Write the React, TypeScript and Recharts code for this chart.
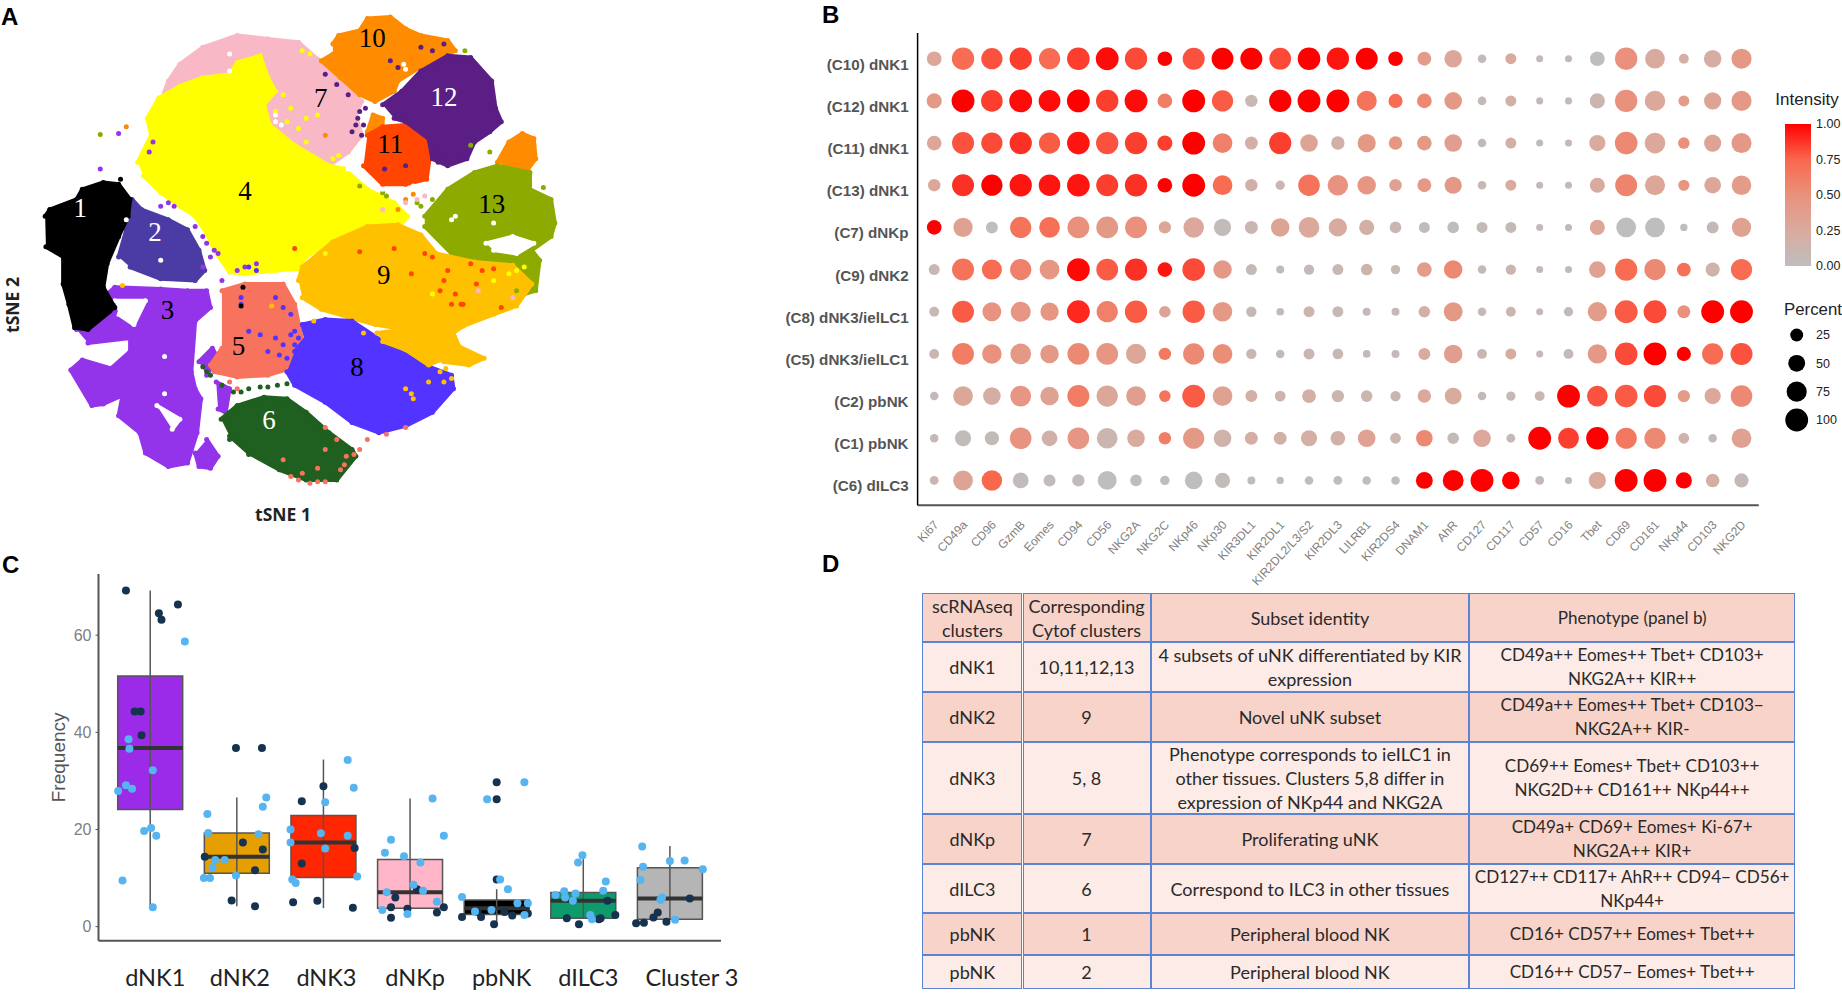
import React from "react";
import { ScatterChart, Scatter, XAxis, YAxis, ZAxis, Cell, ReferenceArea, ReferenceLine } from "recharts";

/* ---------- Panel A: t-SNE map (outline vertices and stray events, t-SNE units) ---------- */
const sneClusters = [
  { name: "7", color: "#F9B8C6", outline: [[420,300],[440,240],[470,190],[530,140],[620,105],[700,115],[780,125],[830,175],[890,240],[945,300],[930,340],[945,400],[910,450],[860,490],[800,470],[700,420],[640,330],[600,300],[520,320]] },
  { name: "10c", color: "#FF8C00", outline: [[960,390],[975,340],[1000,350],[1000,380],[975,405]] },
  { name: "4", color: "#FFFF00", outline: [[360,480],[395,400],[385,350],[415,290],[470,255],[530,230],[600,220],[620,185],[680,165],[700,230],[720,270],[690,310],[705,370],[770,430],[860,490],[900,500],[960,560],[1030,600],[1065,640],[1040,675],[960,675],[880,700],[800,760],[780,795],[720,800],[640,810],[600,805],[560,740],[540,690],[510,640],[470,610],[420,570],[375,520]] },
  { name: "10", color: "#FF8C00", outline: [[870,130],[885,105],[940,90],[960,55],[1020,50],[1060,85],[1100,105],[1170,120],[1190,150],[1110,190],[1040,240],[1030,270],[980,300],[940,280],[890,230],[840,180],[870,160]] },
  { name: "10b", color: "#FF8C00", outline: [[1300,480],[1330,420],[1365,395],[1395,410],[1400,470],[1380,500],[1330,500]] },
  { name: "11", color: "#FF4500", outline: [[960,400],[1000,375],[1060,370],[1110,400],[1125,450],[1115,530],[1060,545],[1000,545],[950,490]] },
  { name: "12", color: "#5B1E85", outline: [[1000,310],[1050,270],[1100,210],[1170,165],[1230,170],[1285,240],[1295,320],[1310,360],[1280,390],[1240,420],[1220,470],[1170,490],[1130,470],[1120,410],[1060,360],[1030,350]] },
  { name: "13", color: "#8DAA00", outline: [[1110,640],[1170,560],[1240,510],[1300,490],[1385,510],[1385,560],[1440,590],[1450,660],[1440,700],[1390,740],[1410,770],[1400,860],[1370,870],[1350,790],[1240,780],[1180,750],[1110,670]] },
  { name: "13hole", color: "#FFFFFF", outline: [[1270,720],[1340,700],[1395,720],[1350,750],[1290,740]] },
  { name: "9", color: "#FFC000", outline: [[780,830],[790,790],[870,715],[960,670],[1040,665],[1100,695],[1140,750],[1240,775],[1340,785],[1390,840],[1350,905],[1290,930],[1210,965],[1185,985],[1200,1025],[1265,1060],[1225,1080],[1160,1070],[1110,1020],[1060,975],[980,960],[930,945],[840,915],[790,880]] },
  { name: "3", color: "#9333EA", outline: [[200,975],[280,870],[300,850],[420,855],[490,860],[540,860],[550,910],[510,950],[500,1100],[510,1150],[525,1180],[515,1280],[490,1370],[440,1380],[380,1340],[365,1280],[310,1230],[320,1170],[270,1195],[240,1200],[185,1095],[215,1065],[290,1090],[340,1040],[340,1000],[230,1015]] },
  { name: "3b", color: "#9333EA", outline: [[540,1300],[570,1350],[550,1385],[520,1380],[510,1340]] },
  { name: "3c", color: "#9333EA", outline: [[520,1070],[555,1030],[570,1060],[540,1110]] },
  { name: "3d", color: "#9333EA", outline: [[565,1130],[600,1150],[590,1220],[570,1210]] },
  { name: "3hole1", color: "#FFFFFF", outline: [[300,890],[380,890],[350,960],[310,930]] },
  { name: "3hole2", color: "#FFFFFF", outline: [[410,1200],[470,1240],[450,1270]] },
  { name: "2", color: "#4B3BA5", outline: [[310,760],[330,680],[345,590],[370,620],[440,650],[490,680],[520,740],[535,800],[510,830],[420,825],[340,790]] },
  { name: "1", color: "#000000", outline: [[118,640],[130,620],[200,590],[215,560],[270,540],[310,545],[340,590],[335,640],[310,700],[280,780],[270,850],[300,910],[230,975],[195,970],[180,900],[165,840],[165,760],[120,730]] },
  { name: "5", color: "#F8735E", outline: [[580,860],[640,840],[740,840],[770,900],[790,1010],[760,1090],[700,1110],[620,1115],[560,1100],[550,1080],[580,1030]] },
  { name: "8", color: "#5233FF", outline: [[770,1040],[800,1000],[790,960],[850,945],[920,950],[1000,1010],[1060,1030],[1110,1080],[1180,1110],[1185,1150],[1130,1220],[1060,1260],[990,1280],[920,1250],[850,1190],[770,1140],[750,1100]] },
  { name: "9b", color: "#FFC000", outline: [[985,985],[1060,975],[1110,1020],[1150,1065],[1120,1080],[1060,1035],[1000,1010]] },
  { name: "6", color: "#1F5F1F", outline: [[578,1240],[620,1200],[690,1175],[750,1180],[800,1220],[860,1280],[920,1330],[930,1350],[880,1420],[800,1420],[730,1390],[650,1340],[600,1290]] },
];
const sneStrays = [
  { color: "#F8735E", events: [[740,1360],[760,1410],[790,1400],[830,1385],[850,1330],[890,1390],[905,1350],[940,1330],[810,1430],[850,1425],[850,1265],[880,1300],[1010,1285],[1060,1265],[960,1300],[600,1130],[620,1150],[780,1420],[830,1425],[925,1345],[900,1375]] },
  { color: "#1F5F1F", events: [[530,1085],[540,1100],[550,1110],[580,1140],[610,1160],[650,1150],[700,1145],[750,1135],[600,1300],[650,1345],[630,1160],[680,1145],[725,1140]] },
  { color: "#FFC000", events: [[1020,1000],[1060,1020],[1100,1030],[1130,1050],[1080,1180],[1060,1150],[1150,1100],[1120,1130],[820,950],[950,985],[1040,1010],[1000,990],[1160,1130],[710,905],[320,845],[1165,1090],[1180,1120],[1075,1165]] },
  { color: "#5233FF", events: [[650,980],[680,990],[720,1000],[740,1020],[760,930],[700,1040],[630,900],[720,880],[770,980],[650,790],[670,800],[750,1060],[780,1000],[630,880],[740,910],[760,990],[730,1050],[770,1020]] },
  { color: "#FF4500", events: [[1160,830],[1190,870],[1210,900],[1110,750],[1030,735],[940,745],[1075,810],[1170,800],[1260,800],[1310,910],[1230,780],[1205,900],[1150,860],[770,735],[1180,900],[1245,840],[1290,795],[1130,760]] },
  { color: "#FFFF00", events: [[850,750],[1130,870],[1290,830],[1350,800],[790,150],[810,160],[750,360],[780,380],[800,420],[830,340],[720,330],[760,320],[1000,650],[1050,650],[740,280],[800,350],[870,470],[885,460],[1370,790],[1330,810]] },
  { color: "#5B1E85", events: [[940,330],[950,370],[920,390],[910,280],[880,250],[850,220],[1005,500],[1060,490],[1020,180],[1100,140],[1130,150],[1160,130],[1140,440],[1130,430],[1160,470],[1040,200],[935,350],[945,400],[955,320],[930,370],[1145,480],[1130,455]] },
  { color: "#8DAA00", events: [[1130,590],[1090,600],[940,550],[1000,570],[262,398],[1420,555],[1230,430],[1350,860],[1400,820],[1280,450],[1215,150],[1010,580],[1100,610]] },
  { color: "#9333EA", events: [[400,420],[390,450],[420,610],[440,600],[510,670],[540,720],[570,750],[530,790],[640,790],[670,780],[620,800],[262,500],[310,395],[300,925],[560,740],[580,830],[455,610],[530,700],[550,760]] },
  { color: "#FF8C00", events: [[330,375],[1060,590],[1080,575],[1040,620],[850,400]] },
  { color: "#F9B8C6", events: [[1090,590],[1110,580],[1000,620],[1250,860],[1340,880],[1060,600]] },
  { color: "#FFFFFF", events: [[600,160],[600,210],[720,340],[735,370],[1055,190],[1350,730],[1190,640],[420,770],[330,650],[1060,205],[1180,650],[1290,660],[720,360],[430,1055],[430,1165],[1000,560],[1040,560],[1080,550],[910,500],[930,510]] },
  { color: "#000000", events: [[635,850],[630,905],[315,530]] },
];
const sneLabels = [
  ["1",210,615,"#FFFFFF"],["2",405,685,"#FFFFFF"],["3",438,918,"#000000"],["4",640,565,"#000000"],
  ["5",623,1025,"#000000"],["6",703,1243,"#FFFFFF"],["7",838,290,"#000000"],["8",933,1085,"#000000"],
  ["9",1003,815,"#000000"],["10",973,113,"#000000"],["11",1020,425,"#000000"],["12",1160,288,"#FFFFFF"],["13",1285,605,"#000000"],
] as const;

/* ---------- Panel B: dot plot ---------- */
const markers = ["Ki67","CD49a","CD96","GzmB","Eomes","CD94","CD56","NKG2A","NKG2C","NKp46","NKp30","KIR3DL1","KIR2DL1","KIR2DL2/L3/S2","KIR2DL3","LILRB1","KIR2DS4","DNAM1","AhR","CD127","CD117","CD57","CD16","Tbet","CD69","CD161","NKp44","CD103","NKG2D"];
const subsets = ["(C10) dNK1","(C12) dNK1","(C11) dNK1","(C13) dNK1","(C7) dNKp","(C9) dNK2","(C8) dNK3/ielLC1","(C5) dNK3/ielLC1","(C2) pbNK","(C1) pbNK","(C6) dILC3"];
const percent = [
  [35,95,85,95,85,98,100,95,35,92,90,92,90,98,95,92,35,30,55,5,15,0,0,35,95,72,10,55,75],
  [38,100,88,100,90,100,95,100,35,100,85,22,95,100,100,75,32,35,55,5,15,0,0,38,95,78,15,52,75],
  [35,92,85,95,85,98,95,95,38,100,72,25,95,55,28,60,28,35,55,5,15,0,0,45,98,80,18,52,75],
  [22,92,85,95,88,98,92,95,35,100,72,22,8,88,78,62,22,30,52,5,15,0,0,38,92,75,16,48,70],
  [35,68,20,85,80,90,90,90,22,78,52,25,62,80,60,38,18,15,18,15,15,0,0,38,72,72,1,20,68],
  [15,92,75,85,72,100,90,95,35,98,62,15,3,12,15,18,8,35,62,5,12,0,0,48,95,85,30,32,85],
  [10,90,65,75,60,100,85,95,18,95,70,12,2,15,15,3,3,18,65,5,10,0,8,68,100,100,25,100,100],
  [10,90,70,80,62,90,90,75,22,85,72,12,5,15,14,2,3,20,62,10,15,0,10,68,98,100,32,85,92],
  [5,72,55,82,62,92,85,72,18,100,72,20,14,30,22,18,12,28,50,5,8,10,100,80,98,95,22,45,88],
  [5,45,32,88,42,88,80,55,22,85,55,25,25,45,35,55,14,48,18,55,6,100,82,95,85,85,14,5,72],
  [6,72,78,42,20,22,65,18,8,55,38,3,1,5,6,5,5,50,82,100,55,6,0,52,100,100,45,28,32],
];
const intensity = [
  [.3,.72,.8,.85,.72,.85,.97,.82,1,.8,1,1,.82,1,.95,1,1,.4,.3,.05,.25,.05,.05,0,.5,.25,.2,.22,.42],
  [.42,1,.85,.97,.97,1,.85,.97,.62,1,.78,.08,1,1,1,.68,.72,.55,.42,.05,.2,.05,.05,.12,.5,.28,.4,.32,.42],
  [.3,.8,.82,.88,.78,.95,.8,.85,.85,1,.6,.2,.85,.32,.18,.42,.45,.42,.38,.05,.2,.05,.08,.25,.55,.28,.5,.32,.42],
  [.3,.88,1,.95,.95,.95,.85,.88,1,1,.72,.18,.1,.68,.48,.45,.35,.42,.42,.08,.25,.05,.05,.25,.58,.3,.45,.3,.4],
  [1,.35,0,.68,.7,.5,.42,.5,.3,.28,.03,.12,.32,.28,.25,.2,.1,.03,.02,.05,.05,.05,.05,.3,0,0,.03,.05,.35],
  [.08,.68,.72,.6,.45,.98,.78,.88,.95,.82,.42,.05,.05,.05,.08,.15,.08,.4,.55,.05,.12,.05,.05,.35,.72,.55,.7,.15,.72],
  [.08,.78,.48,.45,.45,.9,.6,.78,.32,.78,.42,.05,.05,.12,.08,.05,.05,.2,.42,.05,.12,.05,.05,.4,.78,.82,.5,1,1],
  [.12,.62,.5,.42,.42,.55,.45,.3,.65,.55,.52,.1,.05,.12,.08,.05,.05,.25,.38,.12,.25,.05,.05,.42,.82,1,1,.72,.8],
  [.05,.3,.22,.45,.35,.62,.3,.38,.68,.78,.35,.2,.15,.2,.12,.12,.12,.28,.25,.05,.05,.1,1,.8,.78,.82,.4,.28,.55],
  [.05,.03,.05,.48,.18,.45,.12,.25,.62,.42,.15,.22,.18,.2,.18,.35,.12,.55,.05,.28,.05,1,.85,1,.65,.55,.15,.05,.35],
  [.12,.32,.75,.03,.03,.03,0,.03,.03,0,.03,.03,.03,.03,.03,.03,.03,1,1,1,1,.05,.05,.25,1,1,1,.22,.05],
];
const percentLegend = [25, 50, 75, 100];
const intensityTicks = [0, 0.25, 0.5, 0.75, 1];
const gradientColors = ["#BEBEBE", "#D9AB9F", "#E9917C", "#F9674D", "#FF0000"];

/* ---------- Panel C: box plots with jittered points ---------- */
const boxNames = ["dNK1","dNK2","dNK3","dNKp","pbNK","dILC3","Cluster 3"];
const boxLow = [4.1,4.2,3.8,3.8,0.3,1.7,1.5];
const boxQ1 = [24.1,11,10.1,3.8,2.5,1.7,1.5];
const boxMedian = [36.8,14.4,17.3,7.1,3.8,5.3,5.8];
const boxQ3 = [51.6,19.3,22.9,13.8,5.5,7,12.1];
const boxHigh = [69.2,26.6,34.4,26.4,7.7,13.9,16.6];
const boxFills = ["#9B2BE8","#E69F00","#FF2600","#FFB6C8","#000000","#0E9B6C","#B5B5B5"];
const darkPoints = [
  [.72,69.2],[1.10,64.5],[1.13,63.2],[1.32,66.3],[.82,44.3],[.89,44.3],[.90,39.4],
  [1.99,36.8],[2.29,36.8],[2.07,17.3],[2.30,15.9],[1.63,14.4],[2.21,11.6],[1.94,5.4],[2.21,4.2],
  [3.0,28.9],[2.75,25.8],[3.36,16.2],[2.75,13],[2.65,5],[2.93,5.3],[3.34,3.9],
  [4.08,7.7],[3.83,6],[3.78,4],[3.97,3.7],[4.39,4],[4.31,2.9],[3.78,1.8],
  [5.0,29.7],[5.0,26.2],[5,9.7],[4.6,2],[4.82,2],[4.97,.5],[5.09,3],[5.18,2.3],[5.36,2.7],[4.78,3],
  [6.28,5.3],[5.81,1.7],[5.95,.5],[6.18,1.5],[6.2,1.7],[6.37,2.4],
  [6.61,.7],[6.7,.8],[6.86,2.9],[6.81,1.9],[6.96,1],[7.23,5.8],
];
const bluePoints = [
  [1.40,58.7],[.75,38.6],[.76,36.6],[1.03,32.2],[.72,29.1],[.79,28.4],[.63,27.9],[1.01,20.3],[.93,19.7],[1.07,18.7],[.68,9.5],[1.03,4.0],
  [1.66,23.2],[2.34,26.6],[2.30,24.7],[1.67,19.3],[2.25,19],[1.75,13.7],[1.86,13.7],[1.72,12.1],[1.62,10],[1.69,10],[1.99,10.5],
  [3.28,34.3],[3.35,28.6],[3.02,25.6],[2.62,20],[2.97,19.2],[3.28,18.7],[2.62,17.3],[3.02,16.1],[2.64,9.7],[2.68,9],[3.39,10.3],
  [4.26,26.4],[3.78,17.9],[4.39,18.7],[3.71,15.2],[3.93,14.5],[4.12,13.2],[4.04,8.6],[4.15,7.4],[3.73,7.1],[4.31,5.1],[3.68,3.4],[3.97,2.6],
  [5.32,29.7],[4.89,26.2],[5.04,9.7],[5.13,7.7],[4.6,6.1],[5.24,4.8],[5.36,4.8],[4.94,3.4],[4.75,3.1],[5.32,2.4],
  [5.99,14.7],[5.94,13.2],[6.26,9.3],[6.23,7.4],[5.78,7.3],[5.68,6.5],[5.79,6],[5.91,6.8],[5.88,5.3],[6.08,2.4],[6.1,1.5],
  [6.68,16.5],[6.69,12.3],[7.0,13.5],[7.17,13.6],[7.38,11.8],[6.66,9.6],[6.91,6],[6.89,5.5],[7.06,1.4],
];
const boxLabelNudge = [5, 3, 3, 5, 5, 5, 22];

/* ---------- Panel D: table ---------- */
const tableHeader = ["scRNAseq\nclusters","Corresponding\nCytof clusters","Subset identity","Phenotype (panel b)"];
const tableRows = [
  ["dNK1","10,11,12,13","4 subsets of uNK differentiated by KIR\nexpression","CD49a++ Eomes++ Tbet+ CD103+\nNKG2A++ KIR++"],
  ["dNK2","9","Novel uNK subset","CD49a++ Eomes++ Tbet+ CD103\u2212\nNKG2A++ KIR-"],
  ["dNK3","5, 8","Phenotype corresponds to ieILC1 in\nother tissues. Clusters 5,8 differ in\nexpression of NKp44 and NKG2A","CD69++ Eomes+ Tbet+ CD103++\nNKG2D++ CD161++ NKp44++"],
  ["dNKp","7","Proliferating uNK","CD49a+ CD69+ Eomes+ Ki-67+\nNKG2A++ KIR+"],
  ["dILC3","6","Correspond to ILC3 in other tissues","CD127++ CD117+ AhR++ CD94\u2212 CD56+\nNKp44+"],
  ["pbNK","1","Peripheral blood NK","CD16+ CD57++ Eomes+ Tbet++"],
  ["pbNK","2","Peripheral blood NK","CD16++ CD57\u2212 Eomes+ Tbet++"],
];
const tableColEdges = [922.2, 1022.5, 1150.5, 1469.4, 1794.9];
const tableRowEdges = [593.3, 642.3, 692, 741.7, 814.3, 864, 913.3, 955, 989];

/* ---------- helpers ---------- */
function hexToRgb(h: string) { return [1, 3, 5].map((i) => parseInt(h.slice(i, i + 2), 16)); }
function intensityColor(v: number) {
  const t = Math.max(0, Math.min(1, v)) * (gradientColors.length - 1);
  const i = Math.min(Math.floor(t), gradientColors.length - 2);
  const a = hexToRgb(gradientColors[i]), b = hexToRgb(gradientColors[i + 1]);
  const f = t - i;
  return `rgb(${a.map((c, k) => Math.round(c + (b[k] - c) * f)).join(",")})`;
}
const toPts = (list: number[][]) => list.map(([x, y]) => ({ x, y }));
const dotTable = subsets.flatMap((s, r) => markers.map((m, c) => ({ col: c + 1, row: r, percent: percent[r][c], intensity: intensity[r][c] })));
const abs = (left: number, top: number, extra: React.CSSProperties = {}): React.CSSProperties => ({ position: "absolute", left, top, ...extra });
const panelLetter: React.CSSProperties = { fontFamily: "'Liberation Sans', sans-serif", fontWeight: 700, fontSize: 24, lineHeight: "24px", color: "#000" };

function PanelA() {
  return (
    <ScatterChart width={600} height={530} margin={{ top: 0, right: 0, bottom: 0, left: 0 }}>
      <XAxis type="number" dataKey="x" domain={[0, 1568]} hide />
      <YAxis type="number" dataKey="y" domain={[0, 1568]} reversed hide />
      {sneClusters.map((c) => (
        <Scatter key={c.name} name={c.name} data={toPts(c.outline)} fill={c.color} isAnimationActive={false}
          line={{ fill: c.color, stroke: c.color, strokeWidth: 4, strokeLinejoin: "round" }} lineType="joint" lineJointType="catmullRomClosed"
          shape={(p: any) => <circle cx={p.cx} cy={p.cy} r={2.5} fill={c.color} />} />
      ))}
      {sneStrays.map((s, i) => (
        <Scatter key={i} data={toPts(s.events)} isAnimationActive={false}
          shape={(p: any) => <circle cx={p.cx} cy={p.cy} r={2.5} fill={s.color} />} />
      ))}
      <Scatter data={sneLabels.map(([t, x, y, col]) => ({ x, y, t, col }))} isAnimationActive={false}
        shape={(p: any) => (
          <text x={p.cx} y={p.cy} textAnchor="middle" dominantBaseline="central" fontFamily="'Liberation Serif', serif" fontSize={27} fill={p.payload.col}>{p.payload.t}</text>
        )} />
    </ScatterChart>
  );
}

function MarkerTick(props: any) {
  const { x, y, payload } = props;
  return (
    <text x={x + 5} y={y + 12} textAnchor="end" transform={`rotate(-47 ${x + 5} ${y + 12})`} fontFamily="'Liberation Sans', sans-serif" fontSize={12} fill="#808080">
      {markers[payload.value - 1]}
    </text>
  );
}

function SubsetTick(props: any) {
  const { x, y, payload } = props;
  return (
    <text x={x} y={y + 11} textAnchor="end" fontFamily="'Liberation Sans', sans-serif" fontSize={15.2} fontWeight={700} fill="#555">
      {subsets[payload.value]}
    </text>
  );
}

function PanelB() {
  return (
    <ScatterChart width={1062} height={600} margin={{ top: 33, right: 83.2, bottom: 0, left: 0 }}>
      <XAxis type="number" dataKey="col" domain={[0.424, 29.6]} ticks={markers.map((_, i) => i + 1)} interval={0} height={94.7}
        axisLine={{ stroke: "#555", strokeWidth: 2 }} tickLine={false} tick={<MarkerTick />} />
      <YAxis type="number" dataKey="row" domain={[-0.61, 10.59]} reversed ticks={subsets.map((_, i) => i)} interval={0} width={137.6}
        axisLine={{ stroke: "#000", strokeWidth: 1.5 }} tickLine={false} tickSize={0} tickMargin={9} tick={<SubsetTick />} />
      <ZAxis type="number" dataKey="percent" domain={[0, 100]} range={[39, 410]} />
      <Scatter data={dotTable} isAnimationActive={false}>
        {dotTable.map((d, i) => <Cell key={i} fill={intensityColor(d.intensity)} />)}
      </Scatter>
    </ScatterChart>
  );
}

function IntensityLegend() {
  return (
    <ScatterChart width={57} height={162} margin={{ top: 10, right: 0, bottom: 10, left: 0 }}>
      <defs>
        <linearGradient id="intensityGrad" x1="0" y1="1" x2="0" y2="0">
          {gradientColors.map((c, i) => <stop key={i} offset={i / (gradientColors.length - 1)} stopColor={c} />)}
        </linearGradient>
      </defs>
      <XAxis type="number" dataKey="x" domain={[0, 1]} hide />
      <YAxis type="number" dataKey="y" domain={[0, 1]} orientation="right" ticks={intensityTicks} interval={0} width={31} axisLine={false} tickLine={false} tickSize={0} tickMargin={5}
        tickFormatter={(v: number) => v.toFixed(2)} tick={{ fontFamily: "'Liberation Sans', sans-serif", fontSize: 12.5, fill: "#222" }} />
      <ReferenceArea x1={0} x2={1} y1={0} y2={1} fill="url(#intensityGrad)" fillOpacity={1} stroke="none" />
      <Scatter data={intensityTicks.map((y) => ({ x: 0.5, y }))} isAnimationActive={false} shape={() => <g />} />
    </ScatterChart>
  );
}

function PercentLegend() {
  return (
    <ScatterChart width={62} height={115} margin={{ top: 0, right: 0, bottom: 0, left: 0 }}>
      <XAxis type="number" dataKey="x" domain={[0, 32]} hide />
      <YAxis type="number" dataKey="y" domain={[-0.53, 3.53]} reversed orientation="right" ticks={[0, 1, 2, 3]} interval={0} width={30} axisLine={false} tickLine={false} tickSize={0} tickMargin={4}
        tickFormatter={(v: number) => String(percentLegend[v])} tick={{ fontFamily: "'Liberation Sans', sans-serif", fontSize: 12.5, fill: "#222" }} />
      <ZAxis type="number" dataKey="percent" domain={[0, 100]} range={[39, 410]} />
      <Scatter data={percentLegend.map((p, i) => ({ x: 16.7, y: i, percent: p }))} fill="#000" isAnimationActive={false} />
    </ScatterChart>
  );
}

function BoxTick(props: any) {
  const { x, y, payload } = props;
  return (
    <text x={x + boxLabelNudge[payload.value - 1]} y={y + 28} textAnchor="middle" dominantBaseline="central" fontFamily="Lato, sans-serif" fontSize={23.5} fill="#222">
      {boxNames[payload.value - 1]}
    </text>
  );
}

function PanelC() {
  const half = 0.375;
  return (
    <ScatterChart width={780} height={448} margin={{ top: 24, right: 59, bottom: 0, left: 0 }}>
      <XAxis type="number" dataKey="x" domain={[0.403, 7.59]} ticks={boxNames.map((_, i) => i + 1)} interval={0} height={57.3}
        axisLine={{ stroke: "#555", strokeWidth: 2 }} tickLine={false} tick={<BoxTick />} />
      <YAxis type="number" dataKey="y" domain={[-2.9, 72.6]} ticks={[0, 20, 40, 60]} interval={0} width={98.5}
        axisLine={{ stroke: "#555", strokeWidth: 2 }} tickLine={{ stroke: "#555" }} tickSize={3} tickMargin={4}
        tick={{ fontFamily: "'Liberation Sans Narrow', 'Liberation Sans', sans-serif", fontSize: 16, fill: "#808080" }}
        label={{ value: "Frequency", angle: -90, position: "insideLeft", offset: 58, dy: 0, style: { fontFamily: "'Liberation Sans', sans-serif", fontSize: 19, fill: "#555", textAnchor: "middle" } }} />
      {boxNames.map((_, i) => (
        <ReferenceLine key={`w${i}`} segment={[{ x: i + 1, y: boxLow[i] }, { x: i + 1, y: boxHigh[i] }]} stroke="#555" strokeWidth={1.5} />
      ))}
      {boxNames.map((_, i) => (
        <ReferenceArea key={`b${i}`} x1={i + 1 - half} x2={i + 1 + half} y1={boxQ1[i]} y2={boxQ3[i]} fill={boxFills[i]} fillOpacity={1} stroke="#555" strokeWidth={1.5} />
      ))}
      {boxNames.map((_, i) => (
        <ReferenceLine key={`m${i}`} segment={[{ x: i + 1 - half, y: boxMedian[i] }, { x: i + 1 + half, y: boxMedian[i] }]} stroke="#333" strokeWidth={4} />
      ))}
      <Scatter data={toPts(darkPoints)} isAnimationActive={false} shape={(p: any) => <circle cx={p.cx} cy={p.cy} r={4} fill="#16324F" />} />
      <Scatter data={toPts(bluePoints)} isAnimationActive={false} shape={(p: any) => <circle cx={p.cx} cy={p.cy} r={4} fill="#56B4F0" />} />
    </ScatterChart>
  );
}

function PanelD() {
  const rows = [tableHeader, ...tableRows];
  return (
    <>
      {rows.map((row, r) =>
        row.map((text, c) => (
          <div key={`${r}-${c}`} style={abs(tableColEdges[c], tableRowEdges[r], {
            width: tableColEdges[c + 1] - tableColEdges[c], height: tableRowEdges[r + 1] - tableRowEdges[r],
            boxSizing: "border-box", border: "1.25px solid #5B85D2",
            background: r % 2 === 0 ? "#F8D3C9" : "#FCEBE6",
            display: "flex", alignItems: "center", justifyContent: "center", textAlign: "center", whiteSpace: "pre",
            fontFamily: "Lato, sans-serif", fontSize: c === 3 ? 17.1 : 18, lineHeight: "24px", color: "#2a2a2a", overflow: "hidden",
          })}>{text}</div>
        ))
      )}
    </>
  );
}

export default function App() {
  return (
    <div style={{ position: "absolute", left: 0, top: 0, width: 1842, height: 998, overflow: "hidden", background: "#fff" }}>
      <div style={abs(0, 0)}><PanelA /></div>
      <div style={abs(0, 550)}><PanelC /></div>
      <div style={abs(780, 0)}><PanelB /></div>
      <div style={abs(1785, 114)}><IntensityLegend /></div>
      <div style={abs(1780, 320)}><PercentLegend /></div>
      <PanelD />
      <div style={abs(1, 5, panelLetter)}>A</div>
      <div style={abs(822, 3, panelLetter)}>B</div>
      <div style={abs(2, 553, panelLetter)}>C</div>
      <div style={abs(822, 552, panelLetter)}>D</div>
      <div style={abs(283, 514, { transform: "translate(-50%,-50%)", fontFamily: "'Noto Sans', sans-serif", fontWeight: 700, fontSize: 17.5, color: "#222" })}>tSNE 1</div>
      <div style={abs(11.5, 305, { transform: "translate(-50%,-50%) rotate(-90deg)", fontFamily: "'Noto Sans', sans-serif", fontWeight: 700, fontSize: 17.5, color: "#222" })}>tSNE 2</div>
      <div style={abs(1807, 100, { transform: "translate(-50%,-50%)", fontFamily: "'Liberation Sans', sans-serif", fontSize: 17, color: "#222" })}>Intensity</div>
      <div style={abs(1813, 310, { transform: "translate(-50%,-50%)", fontFamily: "'Liberation Sans', sans-serif", fontSize: 16.8, color: "#222" })}>Percent</div>
    </div>
  );
}
